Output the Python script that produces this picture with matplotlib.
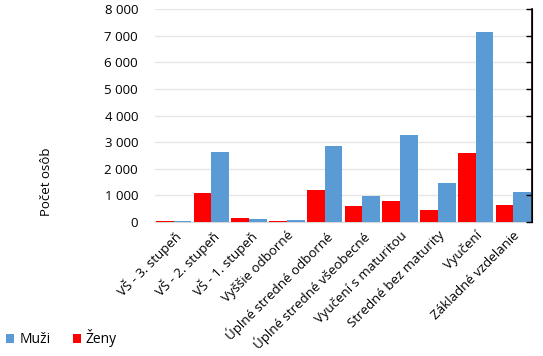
import matplotlib
matplotlib.use("Agg")
import matplotlib.pyplot as plt
import numpy as np

categories = ["VŠ - 3. stupeň", "VŠ - 2. stupeň", "VŠ - 1. stupeň", "Vyššie odborné",
              "Úplné stredné odborné", "Úplné stredné všeobecné", "Vyučení s maturitou",
              "Stredné bez maturity", "Vyučení", "Základné vzdelanie"]
zeny = [40, 1090, 150, 25, 1190, 590, 780, 440, 2585, 625]
muzi = [40, 2620, 100, 65, 2850, 965, 3260, 1455, 7135, 1115]
yticks = [0, 1000, 2000, 3000, 4000, 5000, 6000, 7000, 8000]

plt.rcParams['font.family'] = ['Open Sans', 'DejaVu Sans']
fig = plt.figure(figsize=(5.43, 3.56), dpi=100)
ax = fig.add_axes([0.285, 0.3764, 0.695, 0.5983])

x = np.arange(len(categories))
w = 0.47
ax.bar(x - w/2, zeny, width=w, color='#ff0000', label='Ženy', zorder=3)
ax.bar(x + w/2, muzi, width=w, color='#5b9bd5', label='Muži', zorder=3)

ax.set_xlim(-0.5, len(categories) - 0.5)
ax.set_ylim(0, 8000)
ax.set_yticks(yticks)
ax.set_yticklabels([f"{v:,}".replace(",", " ") for v in yticks], fontsize=9.5)
ax.yaxis.grid(True, color='#e6e6e6', linewidth=1, zorder=0)
ax.set_axisbelow(True)
ax.tick_params(axis='y', length=0, pad=12)

ax.set_xticks(x)
ax.set_xticklabels(categories, rotation=45, ha='right', rotation_mode='anchor', fontsize=9.5)
ax.tick_params(axis='x', length=0, pad=5)

ax.spines['left'].set_visible(False)
ax.spines['top'].set_visible(False)
ax.spines['bottom'].set_color('#d9d9d9')
ax.spines['right'].set_color('black')
ax.spines['right'].set_linewidth(1.2)

ax2 = ax.twinx()
ax2.set_ylim(0, 8000)
ax2.set_yticks(yticks)
ax2.set_yticklabels([])
ax2.tick_params(axis='y', direction='in', length=4, width=1, color='black')
for s in ['left', 'top', 'bottom']:
    ax2.spines[s].set_visible(False)
ax2.spines['right'].set_color('black')

fig.text(0.085, 0.49, "Počet osôb", rotation=90, ha='center', va='center', fontsize=9.5)

handles, labels = ax.get_legend_handles_labels()
leg = fig.legend([handles[1], handles[0]], [labels[1], labels[0]], loc='lower left',
                 bbox_to_anchor=(-0.012, -0.01), ncol=2, frameon=False, fontsize=10,
                 handlelength=0.6, handleheight=0.6, handletextpad=0.35, columnspacing=1.6)

fig.savefig("out.png", dpi=100)
